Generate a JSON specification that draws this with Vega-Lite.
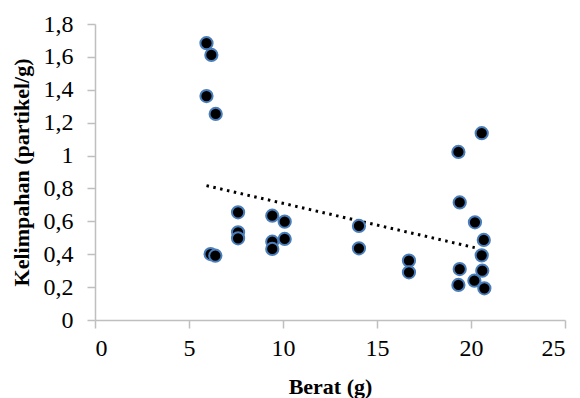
{
  "$schema": "https://vega.github.io/schema/vega-lite/v6.json",
  "width": 470,
  "height": 296,
  "autosize": "none",
  "padding": {"left": 95, "top": 24, "right": 15, "bottom": 78},
  "background": "white",
  "config": {
    "view": {"stroke": null},
    "font": "Liberation Serif",
    "axis": {
      "grid": false, "domainColor": "#bfbfbf", "domainWidth": 1.5, "tickColor": "#bfbfbf", "tickWidth": 1.5, "tickSize": 8,
      "labelOverlap": false, "labelFont": "Liberation Serif", "labelFontSize": 24, "labelColor": "black",
      "titleFont": "Liberation Serif", "titleFontSize": 22, "titleFontWeight": "bold", "titleColor": "black"
    }
  },
  "datasets": {
    "points": [
      {"berat": 5.93, "kelimpahan": 1.683},
      {"berat": 6.19, "kelimpahan": 1.612},
      {"berat": 5.93, "kelimpahan": 1.362},
      {"berat": 6.42, "kelimpahan": 1.253},
      {"berat": 20.57, "kelimpahan": 1.136},
      {"berat": 19.33, "kelimpahan": 1.022},
      {"berat": 19.4, "kelimpahan": 0.715},
      {"berat": 7.61, "kelimpahan": 0.655},
      {"berat": 7.61, "kelimpahan": 0.533},
      {"berat": 7.61, "kelimpahan": 0.497},
      {"berat": 6.15, "kelimpahan": 0.401},
      {"berat": 6.4, "kelimpahan": 0.391},
      {"berat": 9.43, "kelimpahan": 0.634},
      {"berat": 10.09, "kelimpahan": 0.598},
      {"berat": 9.43, "kelimpahan": 0.476},
      {"berat": 9.43, "kelimpahan": 0.432},
      {"berat": 10.09, "kelimpahan": 0.493},
      {"berat": 14.04, "kelimpahan": 0.572},
      {"berat": 14.04, "kelimpahan": 0.436},
      {"berat": 16.7, "kelimpahan": 0.361},
      {"berat": 16.7, "kelimpahan": 0.29},
      {"berat": 19.4, "kelimpahan": 0.31},
      {"berat": 19.33, "kelimpahan": 0.213},
      {"berat": 20.21, "kelimpahan": 0.594},
      {"berat": 20.68, "kelimpahan": 0.487},
      {"berat": 20.57, "kelimpahan": 0.393},
      {"berat": 20.6, "kelimpahan": 0.3},
      {"berat": 20.18, "kelimpahan": 0.239},
      {"berat": 20.71, "kelimpahan": 0.193}
    ],
    "trend": [
      {"berat": 5.93, "kelimpahan": 0.817},
      {"berat": 20.2, "kelimpahan": 0.44}
    ],
    "note": [
      {"label": "y =0,971 - 0,026x", "line": 1}
    ]
  },
  "encoding": {
    "x": {"field": "berat", "type": "quantitative",
      "scale": {"domain": [0, 25], "nice": false},
      "axis": {"values": [0, 5, 10, 15, 20, 25], "title": "Berat (g)", "labelPadding": 8, "titlePadding": 16}},
    "y": {"field": "kelimpahan", "type": "quantitative",
      "scale": {"domain": [0, 1.8], "nice": false},
      "axis": {"values": [0, 0.2, 0.4, 0.6, 0.8, 1, 1.2, 1.4, 1.6, 1.8], "title": "Kelimpahan (partikel/g)",
        "labelExpr": "replace(format(datum.value, '.1~f'), '.', ',')", "labelPadding": 14, "titlePadding": 10}}
  },
  "layer": [
    {
      "data": {"name": "trend"},
      "mark": {"type": "line", "color": "black", "strokeWidth": 3, "strokeDash": [2.5, 4.5]}
    },
    {
      "data": {"name": "points"},
      "mark": {"type": "point", "shape": "circle", "filled": false, "fill": "black", "fillOpacity": 1, "stroke": "#4a7ebb", "strokeWidth": 2, "opacity": 1, "size": 150}
    },
    {
      "data": {"name": "note"},
      "mark": {"type": "text", "text": ["y =0,971 - 0,026x", "R² = 0,165", "r = 0,4062"], "font": "Liberation Serif", "fontSize": 21, "lineHeight": 23, "align": "center", "baseline": "alphabetic", "color": "black"},
      "encoding": {
        "x": {"datum": 19.36, "type": "quantitative"},
        "y": {"datum": 1.6115, "type": "quantitative"}
      }
    }
  ]
}
